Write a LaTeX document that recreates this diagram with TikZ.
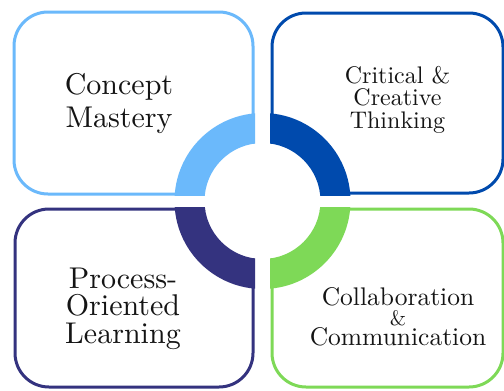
\documentclass[tikz,border=0pt]{standalone}
\usepackage{fontspec}
\newfontfamily\titlefont{lmroman10-regular.otf}
\definecolor{cmBlue}{HTML}{6BB9FB}
\definecolor{ctBlue}{HTML}{004AAD}
\definecolor{poNavy}{HTML}{34337F}
\definecolor{ccGreen}{HTML}{7ED957}
\definecolor{ink}{HTML}{141414}
\tikzset{
  card/.style={draw=#1, line width=3pt, rounded corners=34pt, fill=white},
  label/.style={inner sep=0pt, align=center, text=ink, anchor=base},
}
\begin{document}
\begin{tikzpicture}[x=1pt,y=-1pt]
  \useasboundingbox (0,0) rectangle (504,391);
  \fill[white] (0,0) rectangle (504,391);

  % four cards
  \draw[card=cmBlue]  (14,12)  rectangle (253,194);
  \draw[card=ctBlue]  (272,13) rectangle (503,193);
  \draw[card=poNavy]  (15,209) rectangle (253,387);
  \draw[card=ccGreen] (272,209) rectangle (503,387);

  % central ring, split into four quarters
  \coordinate (hub) at (262.5,201);
  \fill[white] (hub) circle (58);
  \begin{scope}
    \clip (0,0) rectangle (255,195);
    \fill[cmBlue, even odd rule] (hub) circle (88) circle (58);
  \end{scope}
  \begin{scope}
    \clip (270,0) rectangle (504,195);
    \fill[ctBlue, even odd rule] (hub) circle (88) circle (58);
  \end{scope}
  \begin{scope}
    \clip (0,207) rectangle (255,391);
    \fill[poNavy, even odd rule] (hub) circle (88) circle (58);
  \end{scope}
  \begin{scope}
    \clip (270,207) rectangle (504,391);
    \fill[ccGreen, even odd rule] (hub) circle (88) circle (58);
  \end{scope}

  % card titles (anchored at the baseline of the last line)
  \node[label, font=\titlefont\fontsize{30}{33}\selectfont] (cm) at (119,127)
    {Concept\\Mastery};
  \node[label, font=\titlefont\fontsize{24}{22.5}\selectfont] (ct) at (397.5,128)
    {Critical \&\\Creative\\Thinking};
  \node[label, font=\titlefont\fontsize{30}{27.5}\selectfont] (po) at (123,343)
    {Process-\\Oriented\\Learning};
  \node[label, font=\titlefont\fontsize{25.5}{20}\selectfont] (cc) at (398,345)
    {Collaboration\\{\fontsize{21}{20}\selectfont\&}\\Communication};
\end{tikzpicture}
\end{document}
